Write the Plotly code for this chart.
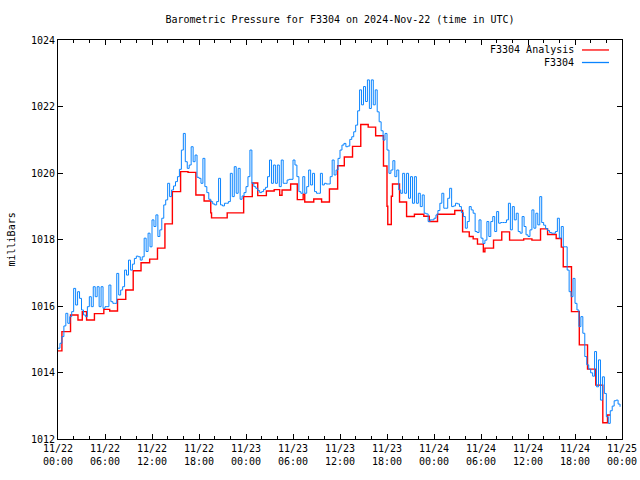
import numpy as np
import pandas as pd
import plotly.graph_objects as go

# ---------------- data ----------------
start = "2024-11-22 00:00"

# F3304 Analysis: step values (hours since start, value in mb)
red_hours = [0, 0.5, 1.6, 2.55, 3.1, 3.65, 4.65, 5.85, 6.6, 7.6, 8.65, 9.6, 10.6, 11.7,
             12.7, 13.65, 14.6, 15.65, 16.6, 17.6, 18.65, 19.5, 19.6, 21.6, 23.7, 24.8,
             25.5, 26.6, 27.6, 28.3, 28.6, 29.7, 30.55, 31.3, 31.5, 32.65, 33.65, 34.65,
             35.7, 36.55, 37.6, 38.65, 39.6, 40.55, 41.55, 42.0, 42.1, 42.55, 42.7, 43.6,
             44.5, 45.5, 46.7, 47.4, 48.45, 50.65, 51.65, 52.5, 53.0, 53.55, 54.3, 54.5,
             55.6, 56.65, 57.65, 59.45, 60.5, 61.6, 62.5, 63.6, 64.25, 64.5, 65.55, 66.55,
             67.6, 68.65, 69.55, 70.15, 70.5]
red_values = [1014.65, 1015.23, 1015.73, 1015.58, 1015.83, 1015.58, 1015.77, 1015.90,
              1015.85, 1016.20, 1016.48, 1017.06, 1017.30, 1017.41, 1017.74, 1018.47,
              1019.44, 1020.04, 1020.02, 1019.34, 1019.16, 1018.80, 1018.65, 1018.80,
              1019.29, 1019.70, 1019.32, 1019.46, 1019.50, 1019.33, 1019.49, 1019.67,
              1019.20, 1019.36, 1019.13, 1019.22, 1019.13, 1019.52, 1020.22, 1020.48,
              1020.80, 1021.46, 1021.38, 1021.12, 1020.21, 1019.00, 1018.45, 1019.30,
              1019.67, 1019.13, 1018.69, 1018.76, 1018.70, 1018.54, 1018.76, 1018.87,
              1018.23, 1018.09, 1018.02, 1017.86, 1017.63, 1017.74, 1017.98, 1018.23,
              1017.98, 1018.02, 1017.98, 1018.32, 1018.15, 1018.03, 1017.77, 1017.18,
              1015.83, 1014.83, 1014.10, 1013.62, 1012.49, 1012.72, 1012.72]

# F3304 observations, every 15 minutes from start (4 values per hour)
obs_step_minutes = 15
obs_values = [
    1014.73, 1014.88, 1015.08, 1015.40,  1015.78, 1015.48, 1015.68, 1015.83,
    1016.53, 1016.03, 1016.43, 1016.23,  1015.88, 1015.73, 1015.68, 1015.98,
    1016.28, 1015.98, 1016.58, 1016.28,  1016.58, 1015.98, 1016.58, 1015.93,
    1015.98, 1015.98, 1016.63, 1016.13,  1016.08, 1016.08, 1016.98, 1016.33,
    1016.48, 1016.58, 1017.08, 1016.93,  1017.38, 1017.08, 1017.26, 1017.43,
    1017.50, 1017.48, 1017.38, 1017.48,  1018.04, 1017.64, 1018.19, 1017.78,
    1018.59, 1018.39, 1018.74, 1018.09,  1018.29, 1018.64, 1019.04, 1019.19,
    1019.69, 1019.29, 1019.49, 1019.61,  1019.74, 1019.89, 1020.11, 1020.69,
    1021.19, 1020.34, 1020.14, 1020.24,  1020.79, 1020.34, 1020.54, 1019.87,
    1019.84, 1019.69, 1020.44, 1019.59,  1019.41, 1019.21, 1019.14, 1019.07,
    1019.04, 1019.14, 1019.84, 1019.04,  1019.01, 1019.09, 1019.09, 1019.14,
    1019.99, 1019.29, 1020.19, 1019.39,  1020.14, 1019.21, 1019.31, 1019.41,
    1019.59, 1019.89, 1020.69, 1019.69,  1019.59, 1019.54, 1019.47, 1019.41,
    1019.44, 1019.51, 1019.57, 1019.89,  1020.39, 1019.69, 1020.24, 1019.69,
    1020.24, 1019.59, 1020.39, 1019.69,  1019.69, 1019.79, 1019.81, 1019.81,
    1020.39, 1020.24, 1019.89, 1019.44,  1019.39, 1019.89, 1019.39, 1019.59,
    1020.09, 1019.64, 1019.99, 1019.44,  1019.39, 1019.39, 1019.99, 1019.64,
    1019.69, 1019.67, 1019.67, 1019.89,  1020.39, 1019.94, 1020.09, 1020.44,
    1020.69, 1020.84, 1020.89, 1020.79,  1020.81, 1021.01, 1021.09, 1021.24,
    1021.44, 1021.87, 1022.50, 1022.05,  1022.60, 1022.15, 1022.80, 1021.94,
    1022.80, 1022.05, 1022.50, 1021.84,  1021.54, 1021.27, 1020.99, 1021.19,
    1020.69, 1019.99, 1020.09, 1020.37,  1019.89, 1020.09, 1019.49, 1019.39,
    1019.99, 1019.39, 1019.99, 1019.24,  1019.89, 1019.09, 1019.89, 1019.09,
    1019.39, 1018.99, 1019.34, 1018.79,  1018.77, 1018.54, 1018.59, 1018.59,
    1018.64, 1018.74, 1018.87, 1019.09,  1019.39, 1018.94, 1018.94, 1019.24,
    1019.54, 1018.99, 1019.01, 1019.09,  1019.07, 1018.99, 1018.81, 1018.69,
    1018.34, 1018.54, 1018.99, 1018.89,  1018.79, 1018.24, 1018.21, 1018.59,
    1018.04, 1017.88, 1017.98, 1018.54,  1018.09, 1018.54, 1018.69, 1018.24,
    1018.84, 1018.49, 1018.51, 1018.51,  1018.51, 1018.59, 1019.09, 1018.29,
    1018.99, 1018.59, 1018.79, 1018.24,  1018.19, 1018.69, 1018.39, 1018.14,
    1018.09, 1018.29, 1018.89, 1018.34,  1018.79, 1018.44, 1019.29, 1018.51,
    1018.43, 1018.33, 1018.27, 1018.21,  1018.19, 1018.19, 1018.24, 1018.64,
    1018.04, 1018.39, 1017.78, 1017.78,  1017.08, 1016.43, 1016.28, 1016.83,
    1016.08, 1015.88, 1015.38, 1015.68,  1015.18, 1014.48, 1014.23, 1014.10,
    1013.99, 1013.89, 1014.63, 1013.57,  1014.38, 1013.17, 1013.87, 1013.37,
    1012.67, 1012.47, 1012.85, 1012.99,  1013.15, 1013.17, 1013.05, 1012.97,
]

tick_labels = ["11/22<br>00:00", "11/22<br>06:00", "11/22<br>12:00", "11/22<br>18:00",
               "11/23<br>00:00", "11/23<br>06:00", "11/23<br>12:00", "11/23<br>18:00",
               "11/24<br>00:00", "11/24<br>06:00", "11/24<br>12:00", "11/24<br>18:00",
               "11/25<br>00:00"]
y_ticks = [1012, 1014, 1016, 1018, 1020, 1022, 1024]

series_names = ["F3304 Analysis", "F3304"]
series_colors = ["#ff0000", "#0a84ff"]

# ---------------- figure ----------------
t0 = pd.Timestamp(start)
red_t = t0 + pd.to_timedelta(red_hours, unit="h")
obs_t = t0 + pd.to_timedelta(np.arange(len(obs_values)) * obs_step_minutes, unit="min")

FONT = "DejaVu Sans Mono"

fig = go.Figure()
fig.add_trace(go.Scatter(x=red_t, y=red_values, mode="lines", line_shape="hv",
                         line=dict(color=series_colors[0], width=1.4),
                         name=series_names[0], showlegend=False))
fig.add_trace(go.Scatter(x=obs_t, y=obs_values, mode="lines", line_shape="hv",
                         line=dict(color=series_colors[1], width=1.0),
                         name=series_names[1], showlegend=False))

major = pd.date_range(start, periods=len(tick_labels), freq="6h")
minor = pd.date_range(start, periods=37, freq="2h")

fig.update_xaxes(range=[major[0], major[-1]], tickvals=major, ticktext=tick_labels,
                 ticks="inside", ticklen=5, tickcolor="black", mirror="allticks",
                 showline=True, linecolor="black", linewidth=1, showgrid=False,
                 zeroline=False, automargin=False,
                 tickfont=dict(family=FONT, size=10, color="black"),
                 minor=dict(tickvals=minor, ticks="inside", ticklen=3, tickcolor="black",
                            showgrid=False))
fig.update_yaxes(range=[1012, 1024], tickvals=y_ticks, ticks="inside", ticklen=5,
                 tickcolor="black", mirror="allticks", showline=True, linecolor="black",
                 linewidth=1, showgrid=False, zeroline=False, automargin=False,
                 tickfont=dict(family=FONT, size=10, color="black"))

# y-axis title
fig.add_annotation(x=-0.0816, y=0.5, xref="paper", yref="paper", text="milliBars",
                   textangle=-90, showarrow=False, xanchor="center", yanchor="middle",
                   font=dict(family=FONT, size=10, color="black"))

# gnuplot-style key: text right-aligned, line sample to its right
key_rows = [0.975, 0.9436]
for name, color, yk in zip(series_names, series_colors, key_rows):
    fig.add_annotation(x=0.918, y=yk, xref="paper", yref="paper", text=name,
                       showarrow=False, xanchor="right", yanchor="middle",
                       font=dict(family=FONT, size=10, color="black"))
    fig.add_shape(type="line", xref="paper", yref="paper", x0=0.929, x1=0.977,
                  y0=yk, y1=yk, line=dict(color=color, width=1.3))

fig.update_layout(
    width=640, height=480,
    margin=dict(l=58, r=18, t=40, b=41),
    paper_bgcolor="white", plot_bgcolor="white",
    title=dict(text="Barometric Pressure for F3304 on 2024-Nov-22 (time in UTC)",
               x=0.5, xref="paper", xanchor="center", y=1 - 19 / 480, yanchor="middle",
               font=dict(family=FONT, size=10, color="black")),
)

# remove the default page margin so the 640x480 figure fills the window
fig.write_html("out.html",
               config={"displayModeBar": False},
               post_script="document.body.style.margin='0';"
                           "document.body.style.overflow='hidden';")
